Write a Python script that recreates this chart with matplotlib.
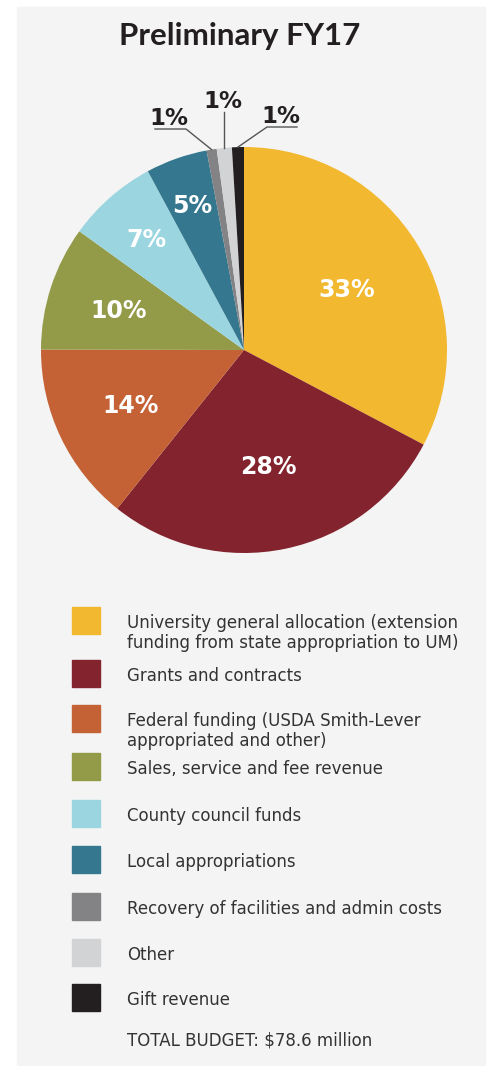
import numpy as np
import matplotlib
matplotlib.use("Agg")
import matplotlib.pyplot as plt
from matplotlib.patches import Rectangle

# data
sources = ["University general allocation (extension\nfunding from state appropriation to UM)",
           "Grants and contracts",
           "Federal funding (USDA Smith-Lever\nappropriated and other)",
           "Sales, service and fee revenue",
           "County council funds",
           "Local appropriations",
           "Recovery of facilities and admin costs",
           "Other",
           "Gift revenue"]
shares = [32.7, 28.0, 14.3, 9.9, 7.2, 4.9, 0.8, 1.2, 0.95]
pct_labels = ["33%", "28%", "14%", "10%", "7%", "5%", "1%", "1%", "1%"]
colors = ["#F2B830", "#82232E", "#C46236", "#939A48", "#9BD6E0",
          "#34778E", "#838386", "#D2D3D5", "#231F20"]
title = "Preliminary FY17"
total_note = "TOTAL BUDGET: $78.6 million"

W, H = 489, 1066
TXT = "#231F20"
PCT_FONT = "DejaVu Sans"
LEG_FONT = "DejaVu Sans"

def py(y):
    # pixel-from-top -> data y
    return H - y

fig = plt.figure(figsize=(W / 100, H / 100), dpi=100, facecolor="white")
ax = fig.add_axes([0, 0, 1, 1])

# light panel behind everything
ax.add_patch(Rectangle((17, 0), 468, H - 7, color="#F4F4F4", zorder=0))

cx, cy, R = 244, 350, 203
wedges, _ = ax.pie(shares, colors=colors, startangle=90, counterclock=False,
                   center=(cx, py(cy)), radius=R, frame=True)

# percentages inside the big slices
inner_r = [0.59, 0.58, 0.62, 0.65, 0.73, 0.76]
for w, lab, f in zip(wedges[:6], pct_labels[:6], inner_r):
    a = np.deg2rad((w.theta1 + w.theta2) / 2)
    x = cx + f * R * np.cos(a)
    y = py(cy) + f * R * np.sin(a)
    ax.text(x, y - 8.5, lab, color="white", fontsize=17, fontweight="bold",
            family=PCT_FONT, ha="center", va="baseline")

# the three 1% slices with leader lines
def edge(w):
    a = np.deg2rad((w.theta1 + w.theta2) / 2)
    return cx + R * np.cos(a), py(cy) + R * np.sin(a)

lw = 1.0
lc = "#555555"
# gray slice: label to the left, underlined
ex, ey = edge(wedges[6])
ax.plot([ex, 186, 155], [ey, py(129), py(129)], color=lc, lw=lw)
ax.text(169, py(125), pct_labels[6], color=TXT, fontsize=16.5, fontweight="bold",
        family=PCT_FONT, ha="center", va="baseline")
# light gray slice: label straight above
ex, ey = edge(wedges[7])
ax.plot([ex, ex], [ey, py(112)], color=lc, lw=lw)
ax.text(222.5, py(108), pct_labels[7], color=TXT, fontsize=16.5, fontweight="bold",
        family=PCT_FONT, ha="center", va="baseline")
# black slice: label to the right, underlined
ex, ey = edge(wedges[8])
ax.plot([ex, 267, 297], [ey, py(127), py(127)], color=lc, lw=lw)
ax.text(281, py(123), pct_labels[8], color=TXT, fontsize=16.5, fontweight="bold",
        family=PCT_FONT, ha="center", va="baseline")

# title
ax.text(240, py(45), title, color=TXT, fontsize=22.5, fontweight="bold",
        family="Lato", ha="center", va="baseline")

# legend
box_tops = [607, 660, 705, 753, 800, 846, 893, 939, 984]
for top, c, lab in zip(box_tops, colors, sources):
    ax.add_patch(Rectangle((72, py(top + 27)), 28, 27, color=c, zorder=2))
    for k, line in enumerate(lab.split("\n")):
        ax.text(127, py(top + 21 + 20 * k), line, color="#333333", fontsize=12,
                family=LEG_FONT, ha="left", va="baseline")
ax.text(127, py(1045), total_note, color="#333333", fontsize=12,
        family=LEG_FONT, ha="left", va="baseline")

ax.set_xlim(0, W)
ax.set_ylim(0, H)
ax.set_aspect("equal")
ax.axis("off")

fig.savefig("out.png", dpi=100, facecolor="white")
